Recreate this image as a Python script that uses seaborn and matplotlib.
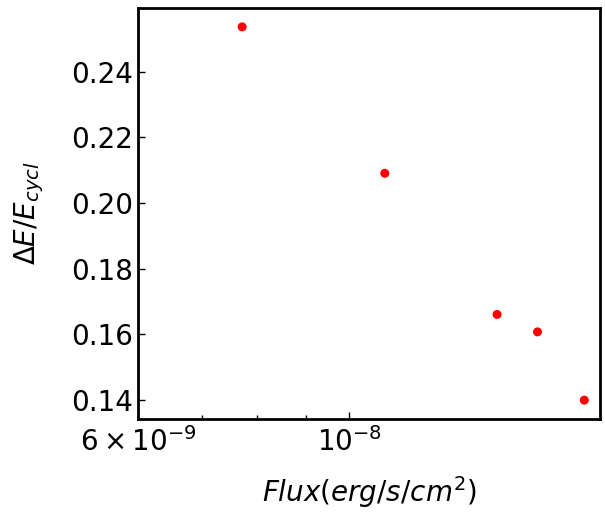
import matplotlib
matplotlib.use("Agg")
import matplotlib.pyplot as plt
import seaborn as sns
import pandas as pd

# values
flux = [7.72e-9, 1.09e-8, 1.43e-8, 1.577e-8, 1.766e-8]
dE_over_E = [0.2537, 0.2091, 0.1661, 0.1608, 0.1400]

df = pd.DataFrame({"flux": flux, "ratio": dE_over_E})

fig = plt.figure(figsize=(6.05, 5.12), dpi=100)
ax = fig.add_axes([0.228, 0.182, 0.764, 0.802])

sns.scatterplot(data=df, x="flux", y="ratio", color="red", s=42,
                edgecolor="none", ax=ax)
ax.set_xscale("log")
ax.set_xlim(6.0e-9, 1.835e-8)

ax.set_xlabel(r"$Flux(erg/s/cm^2)$", fontsize=20, labelpad=12)
ax.set_ylabel(r"$\Delta E/E_{cycl}$", fontsize=20, labelpad=18)
ax.tick_params(axis="both", which="both", direction="in", labelsize=20)
ax.tick_params(axis="x", which="both", pad=6)
ax.tick_params(which="major", length=5, width=1)
ax.tick_params(which="minor", length=3, width=1)
for sp in ax.spines.values():
    sp.set_linewidth(2)

fig.savefig("out.png", dpi=100)
